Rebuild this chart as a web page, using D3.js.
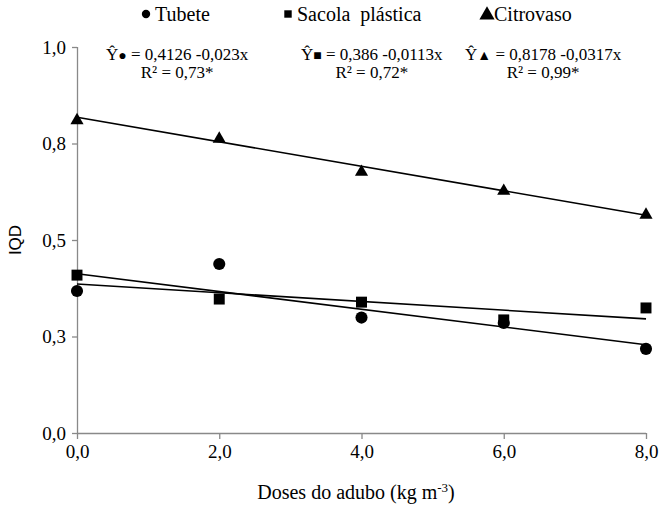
<html>
<script src='https://d3js.org/d3.v7.min.js'></script>
<style>
  body { margin: 0; background: #fff; }
  svg text { font-family: "Liberation Serif", "Times New Roman", Times, serif; fill: #000; }
</style>
<body>
<svg width=661 height=505></svg>
<script>
// doses (kg m-3)
var doses = [0, 2, 4, 6, 8];
var series = ["Tubete", "Sacola  plástica", "Citrovaso"];
var tubete = [0.368, 0.438, 0.299, 0.285, 0.218];
var sacola = [0.409, 0.347, 0.339, 0.293, 0.324];
var citrovaso = [0.810, 0.762, 0.676, 0.627, 0.565];
// regression coefficients
var intercepts = [0.4126, 0.386, 0.8178];
var slopes = [-0.023, -0.0113, -0.0317];
var eqLabels = ["= 0,4126 -0,023x", "= 0,386 -0,0113x", "= 0,8178 -0,0317x"];
var r2Labels = ["R² = 0,73*", "R² = 0,72*", "R² = 0,99*"];
var xTicks = [0, 2, 4, 6, 8];
var xTickLabels = ["0,0", "2,0", "4,0", "6,0", "8,0"];
var yTicks = [0, 0.25, 0.5, 0.75, 1.0];
var yTickLabels = ["0,0", "0,3", "0,5", "0,8", "1,0"];

var serif = '"Liberation Serif", "Times New Roman", Times, serif';
var svg = d3.select("svg");
var axisColor = "#898989";

var x = d3.scaleLinear().domain([0, 8]).range([77, 646]);
var y = d3.scaleLinear().domain([0, 1]).range([433, 47]);

// axes
var gx = svg.append("g")
  .attr("transform", "translate(0,433)")
  .call(d3.axisBottom(x).tickValues(xTicks).tickSize(6).tickPadding(6)
    .tickFormat(function(d, i) { return xTickLabels[i]; }));
var gy = svg.append("g")
  .attr("transform", "translate(77,0)")
  .call(d3.axisLeft(y).tickValues(yTicks).tickSize(5).tickPadding(6)
    .tickFormat(function(d, i) { return yTickLabels[i]; }));
[gx, gy].forEach(function(g) {
  g.attr("font-family", null);
  g.select(".domain").attr("stroke", axisColor).attr("stroke-width", 1.3);
  g.selectAll(".tick line").attr("stroke", axisColor).attr("stroke-width", 1.3);
  g.selectAll(".tick text")
    .style("font-family", serif)
    .style("font-size", "19px").attr("fill", "#000");
});
gy.select(".domain").attr("d", "M0.5," + y(1) + "V" + y(0));
gx.select(".domain").attr("d", "M" + x(0) + ",0.5H" + x(8));

// trend lines
var data = [tubete, sacola, citrovaso];
var shapes = [d3.symbolCircle, d3.symbolSquare, d3.symbolTriangle];
var sizes = [115, 120, 75];

intercepts.forEach(function(b, i) {
  svg.append("line")
    .attr("x1", x(0)).attr("y1", y(b))
    .attr("x2", x(8)).attr("y2", y(b + slopes[i] * 8))
    .attr("stroke", "#000").attr("stroke-width", 1.6);
});

// points
data.forEach(function(vals, i) {
  svg.append("g").selectAll("path")
    .data(vals).enter().append("path")
    .attr("d", d3.symbol().type(shapes[i]).size(sizes[i]))
    .attr("transform", function(d, j) {
      return "translate(" + x(doses[j]) + "," + y(d) + ")";
    })
    .attr("fill", "#000");
});

// legend
var legX = [146, 288, 487];
var leg = svg.append("g");
series.forEach(function(s, i) {
  leg.append("path")
    .attr("d", d3.symbol().type(shapes[i]).size(i == 2 ? 100 : 55))
    .attr("transform", "translate(" + legX[i] + "," + (i == 2 ? 15 : 14) + ")");
  leg.append("text")
    .attr("x", legX[i] + (i == 2 ? 7 : 9)).attr("y", 21)
    .style("font-family", serif)
    .style("font-size", "20px")
    .attr("xml:space", "preserve")
    .text(s);
});

// equations
var eqX = [106, 301, 465];
var glyphs = ["●", "■", "▲"];
eqLabels.forEach(function(e, i) {
  var t = svg.append("text").attr("x", eqX[i]).attr("y", 60)
    .style("font-family", serif).style("font-size", "17px");
  t.append("tspan").text("Ŷ");
  t.append("tspan").style("font-size", "14px").text(glyphs[i]);
  t.append("tspan").text(" " + e);
  var w = t.node().getComputedTextLength();
  svg.append("text").attr("x", eqX[i] + w / 2).attr("y", 78)
    .attr("text-anchor", "middle")
    .style("font-family", serif).style("font-size", "17px").text(r2Labels[i]);
});

// axis titles
svg.append("text")
  .attr("transform", "translate(21,240) rotate(-90)")
  .attr("text-anchor", "middle")
  .style("font-family", "Liberation Sans, Arial, sans-serif")
  .style("font-size", "17px").text("IQD");

var xt = svg.append("text").attr("x", 356).attr("y", 499)
  .attr("text-anchor", "middle")
  .style("font-family", serif).style("font-size", "20px");
xt.append("tspan").text("Doses do adubo (kg m");
xt.append("tspan").attr("dy", -7).style("font-size", "13px").text("-3");
xt.append("tspan").attr("dy", 7).text(")");
</script>
</body>
</html>
